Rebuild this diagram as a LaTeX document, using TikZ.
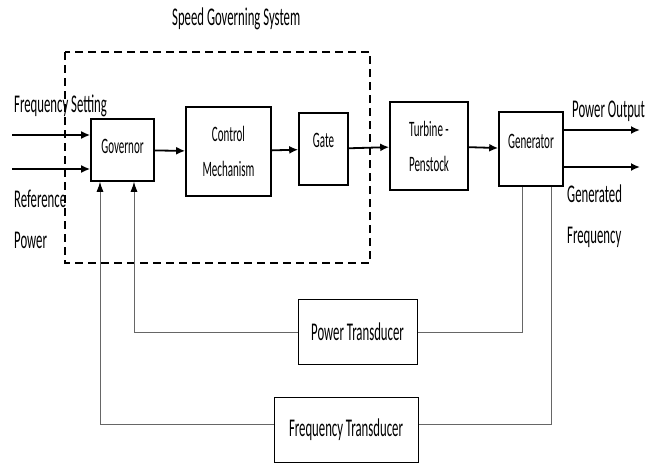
\documentclass[tikz,border=0pt]{standalone}
\usepackage{fontspec}
\setmainfont{Carlito}
\usepackage{graphicx}
\usetikzlibrary{arrows.meta,positioning}

\newcommand{\sq}[1]{\scalebox{0.5}[1]{#1}}
\newcommand{\upsq}[2]{\raisebox{#1}[\height][\depth]{\sq{#2}}}

\tikzset{
  block/.style={draw, line width=1.6pt, inner sep=0pt, align=center, font=\fontsize{22}{35}\selectfont},
  tbox/.style={draw, line width=1pt, inner sep=0pt, font=\fontsize{25.5}{30}\selectfont},
  lbl/.style={inner sep=0pt, font=\fontsize{25.5}{30}\selectfont},
  flow/.style={line width=1.8pt, -{Latex[length=9pt,width=8pt]}},
  fb/.style={line width=0.8pt, draw=black!60},
  fbtip/.style={fb, -{Latex[length=10pt,width=7pt,color=black]}}
}

\begin{document}
\begin{tikzpicture}[x=1pt,y=-1pt]
\useasboundingbox (0,0) rectangle (645,463);

\draw[line width=2.6pt, dash pattern=on 8pt off 5pt] (65,52) rectangle (370,263);

\node[lbl, anchor=base west] (title) at (172,25) {\sq{Speed Governing System}};

\node[block, minimum width=63pt, minimum height=62pt] (gov) at (122.5,150) {\upsq{4pt}{Governor}};
\node[block, minimum width=85pt, minimum height=89pt] (ctrl) at (228.5,151.5) {\sq{Control}\\\sq{Mechanism}};
\node[block, minimum width=49pt, minimum height=72pt] (gate) at (323.5,149) {\upsq{9pt}{Gate}};
\node[block, minimum width=78pt, minimum height=88pt] (turb) at (429,146) {\sq{Turbine -}\\\sq{Penstock}};
\node[block, minimum width=64pt, minimum height=74pt] (gen) at (531,149) {\upsq{8pt}{Generator}};

\node[tbox, minimum width=119pt, minimum height=65pt] (ptr) at (357.5,332) {\sq{Power Transducer}};
\node[tbox, minimum width=144pt, minimum height=65pt] (ftr) at (346,429.5) {\sq{Frequency Transducer}};

\draw[flow] (gov) -- (ctrl);
\draw[flow] (ctrl) -- (gate);
\draw[flow] (gate) -- (turb);
\draw[flow] (turb) -- (gen);

\coordinate (fs) at (12,135);
\coordinate (rp) at (12,169);
\draw[flow] (fs) -- (fs -| gov.west);
\draw[flow] (rp) -- (rp -| gov.west);

\coordinate (po) at (640,130);
\coordinate (gf) at (640,167);
\draw[flow] (po -| gen.east) -- (po);
\draw[flow] (gf -| gen.east) -- (gf);

\coordinate (pw) at (134,332);
\coordinate (pg) at (522,332);
\coordinate (fw) at (100,424);
\coordinate (fg) at (551,424);

\draw[fb] (pg |- gen.south) -- (pg) -- (ptr.east);
\draw[fbtip] (ptr.west) -- (pw) -- (pw |- gov.south);
\draw[fb] (fg |- gen.south) -- (fg) -- (ftr.east |- fg);
\draw[fbtip] (ftr.west |- fw) -- (fw) -- (fw |- gov.south);

\node[lbl, anchor=base west] (fset) at (14,112) {\sq{Frequency Setting}};
\node[lbl, anchor=base west] (ref) at (14,207) {\sq{Reference}};
\node[lbl, anchor=base west] (pref) at (14,248) {\sq{Power}};

\node[lbl, anchor=base west] (pout) at (572,117) {\sq{Power Output}};
\node[lbl, anchor=base west] (gfa) at (567,202) {\sq{Generated}};
\node[lbl, anchor=base west] (gfb) at (567,243) {\sq{Frequency}};

\end{tikzpicture}
\end{document}
